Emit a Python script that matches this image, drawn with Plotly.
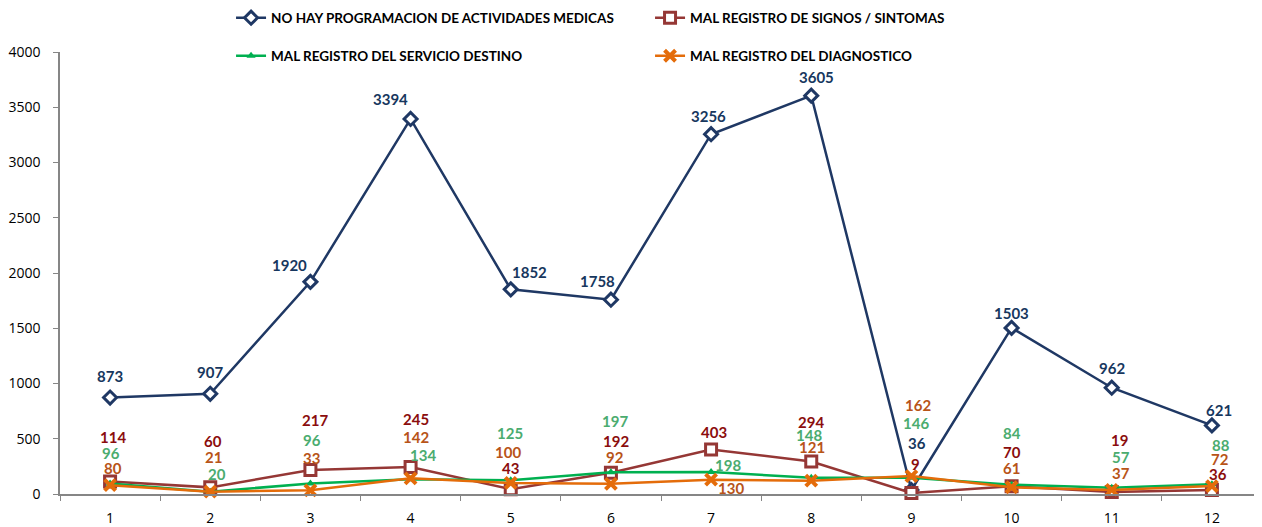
import plotly.graph_objects as go

# ---------------- data ----------------
categories = ["1", "2", "3", "4", "5", "6", "7", "8", "9", "10", "11", "12"]

series_names = [
    "NO HAY PROGRAMACION DE ACTIVIDADES MEDICAS",
    "MAL REGISTRO DE SIGNOS / SINTOMAS",
    "MAL REGISTRO DEL SERVICIO DESTINO",
    "MAL REGISTRO DEL DIAGNOSTICO",
]
actividades_medicas = [873, 907, 1920, 3394, 1852, 1758, 3256, 3605, 36, 1503, 962, 621]
signos_sintomas = [114, 60, 217, 245, 43, 192, 403, 294, 9, 70, 19, 36]
servicio_destino = [96, 20, 96, 134, 125, 197, 198, 148, 146, 84, 57, 88]
diagnostico = [80, 21, 33, 142, 100, 92, 130, 121, 162, 61, 37, 72]

y_ticks = [0, 500, 1000, 1500, 2000, 2500, 3000, 3500, 4000]

# ---------------- styles ----------------
line_colors = ["#1F3864", "#953735", "#00B050", "#E46C0A"]
label_colors = ["#17375E", "#8B0D0D", "#4BAC6F", "#B85418"]

# data-label pixel offsets (dx right, dy down) per series, per category
label_offsets = [
    [(0, -22), (0, -22), (-21, -17), (-20, -20), (19, -17), (-13, -19),
     (-3, -18), (5, -19), (6, -47), (0, -15), (0, -20), (7, -15)],
    [(3, -44), (3, -46), (5, -50), (5, -48), (0, -21), (5, -32),
     (3, -17), (0, -40), (4, -29), (0, -34), (8, -52), (6, -16)],
    [(1, -30), (7, -18), (2, -43), (12, -24), (-1, -47), (4, -51),
     (17, -7), (-2, -43), (5, -55), (0, -52), (9, -31), (9, -39)],
    [(3, -17), (3, -35), (1, -32), (5, -41), (-3, -31), (4, -27),
     (20, 8), (1, -34), (7, -71), (0, -19), (9, -17), (8, -27)],
]

all_values = [actividades_medicas, signos_sintomas, servicio_destino, diagnostico]

markers = [
    dict(symbol="diamond", size=10, color="white", line=dict(color=line_colors[0], width=3)),
    dict(symbol="square", size=11, color="white", line=dict(color=line_colors[1], width=3)),
    dict(symbol="triangle-up", size=8, color=line_colors[2], line=dict(color=line_colors[2], width=0)),
    dict(symbol="x-thin", size=11, color=line_colors[3], line=dict(color=line_colors[3], width=4)),
]
legends = ["legend", "legend", "legend2", "legend2"]

fig = go.Figure()
for i, (name, vals) in enumerate(zip(series_names, all_values)):
    fig.add_trace(go.Scatter(
        x=categories, y=vals, name=name, mode="lines+markers",
        line=dict(color=line_colors[i], width=2.5),
        marker=markers[i],
        legend=legends[i],
        cliponaxis=False,
    ))

annotations = []
for i, vals in enumerate(all_values):
    for j, v in enumerate(vals):
        dx, dy = label_offsets[i][j]
        annotations.append(dict(
            x=j, y=v, xref="x", yref="y", text=str(v),  # x = category index
            showarrow=False, xshift=dx, yshift=-dy,
            font=dict(family="Lato", size=15, color=label_colors[i], weight="bold"),
        ))

legend_common = dict(
    orientation="h", xanchor="left", yanchor="middle",
    entrywidth=374, entrywidthmode="pixels", itemwidth=30,
    font=dict(family="Lato", size=13.5, color="#000000", weight="bold"),
    bgcolor="rgba(0,0,0,0)", traceorder="normal",
)

# page body has an 8px default margin, so the figure is sized to fit the 1262x527 view
fig.update_layout(
    width=1254, height=519,
    margin=dict(l=52, r=0, t=44, b=33, autoexpand=False),
    paper_bgcolor="white", plot_bgcolor="white",
    showlegend=True,
    legend=dict(x=0.1423, y=1.077, **legend_common),
    legend2=dict(x=0.1423, y=0.991, **legend_common),
    annotations=annotations,
    xaxis=dict(
        type="category", range=[-0.5, 11.5],
        showline=True, linecolor="#868686", linewidth=1.5,
        ticks="outside", ticklen=5, tickcolor="#868686", tickson="boundaries",
        showgrid=False, zeroline=False,
        tickfont=dict(family="Open Sans", size=14, color="#000000"),
        ticklabelstandoff=10,
    ),
    yaxis=dict(
        range=[0, 4000], tickvals=y_ticks,
        showline=True, linecolor="#868686", linewidth=1.5,
        ticks="outside", ticklen=5, tickcolor="#868686",
        showgrid=False, zeroline=False,
        tickfont=dict(family="Open Sans", size=14, color="#000000"),
        ticklabelstandoff=10,
    ),
)

fig.write_html("out.html")
